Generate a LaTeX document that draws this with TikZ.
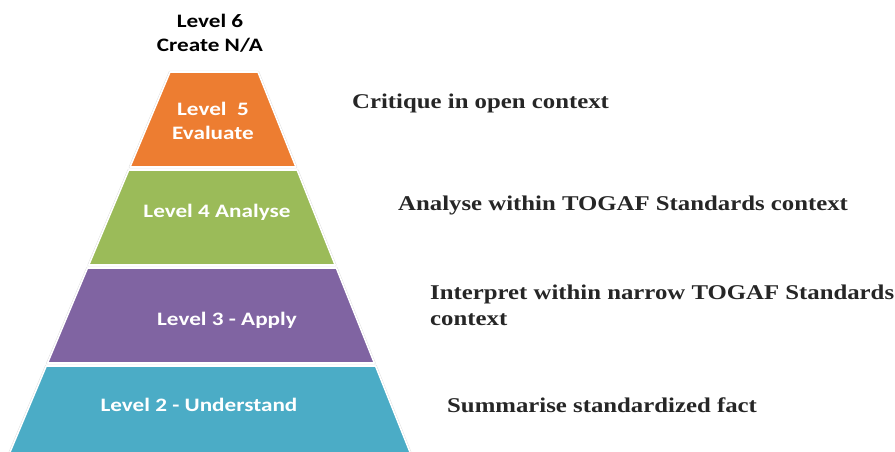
\documentclass[tikz,border=0pt]{standalone}
\usepackage{fontspec}
\setmainfont[FakeStretch=1.18]{Liberation Serif}
\newfontfamily\lvfont[FakeStretch=1.22]{Carlito}
\definecolor{lvfive}{HTML}{ED7D31}
\definecolor{lvfour}{HTML}{9BBB59}
\definecolor{lvthree}{HTML}{8064A2}
\definecolor{lvtwo}{HTML}{4BACC6}
\definecolor{desctext}{HTML}{262626}
\begin{document}
\begin{tikzpicture}[x=1pt, y=-1pt, line join=round, line cap=round,
	lvtext/.style={text=white, font=\lvfont\bfseries\fontsize{19}{24}\selectfont, align=center, inner sep=0pt},
	desc/.style={text=desctext, font=\bfseries\fontsize{21}{26}\selectfont, anchor=west, align=left, inner sep=0pt}]
	\useasboundingbox (0,0) rectangle (895,452);
	\def\xl{170} \def\xr{258} \def\ytop{72}
	\pgfmathsetmacro\sl{0.421} \pgfmathsetmacro\sr{0.4}
	% pyramid bands: top edge / bottom edge / colour
	\foreach \t/\b/\c in {72/167/lvfive,170/265/lvfour,268/363/lvthree,366/460/lvtwo}{
		\pgfmathsetmacro\lt{\xl-(\t-\ytop)*\sl} \pgfmathsetmacro\rt{\xr+(\t-\ytop)*\sr}
		\pgfmathsetmacro\lb{\xl-(\b-\ytop)*\sl} \pgfmathsetmacro\rb{\xr+(\b-\ytop)*\sr}
		\draw[black!14, line width=2.4pt] (\lt,\t)--(\rt,\t)--(\rb,\b)--(\lb,\b)--cycle;
		\filldraw[fill=\c, draw=white, line width=1.6pt] (\lt,\t)--(\rt,\t)--(\rb,\b)--(\lb,\b)--cycle;
	}
	\node[lvtext, text=black] (lvsix) at (210,33) {Level 6\\Create N/A};
	\node[lvtext] (lvfivetxt) at (213,121) {Level\ \ 5\\Evaluate};
	\node[lvtext] (lvfourtxt) at (217,212) {Level 4 Analyse};
	\node[lvtext] (lvthreetxt) at (227,320) {Level 3 - Apply};
	\node[lvtext] (lvtwotxt) at (199,405) {Level 2 - Understand};
	% descriptions on the right
	\node[desc] (dfive) at (352,103) {Critique in open context};
	\node[desc] (dfour) at (398,205) {Analyse within TOGAF Standards context};
	\node[desc] (dthree) at (430,305) {Interpret within narrow TOGAF Standards\\context};
	\node[desc] (dtwo) at (447,405) {Summarise standardized fact};
\end{tikzpicture}
\end{document}
